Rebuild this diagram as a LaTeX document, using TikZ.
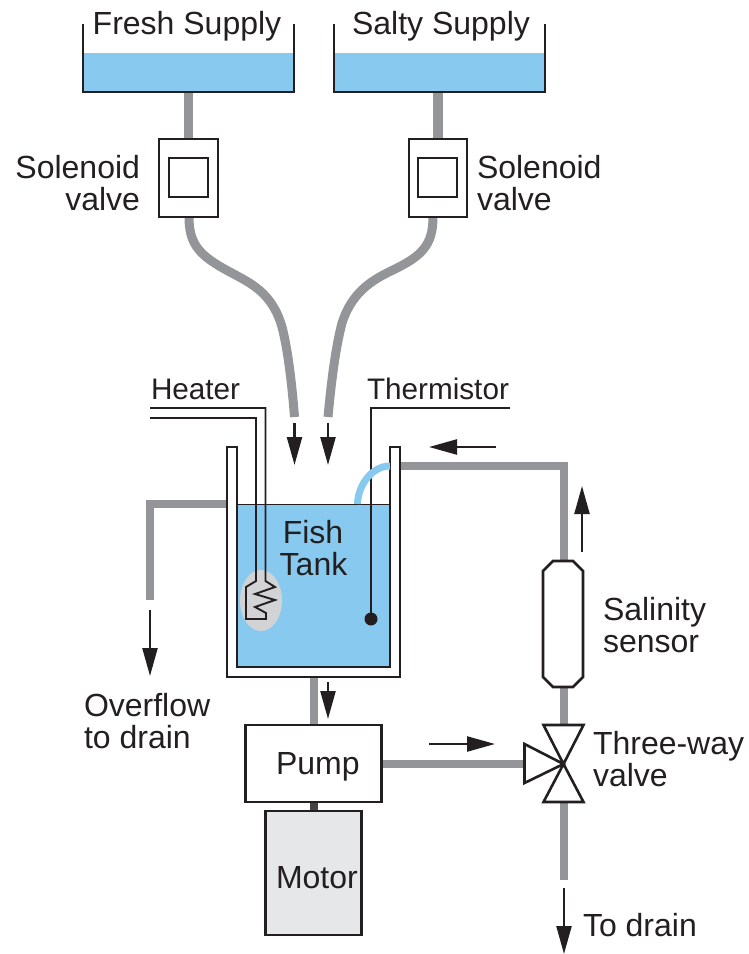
\documentclass[tikz,border=0pt]{standalone}
\usepackage{fontspec}
\setmainfont{Liberation Sans}
\usetikzlibrary{arrows.meta,backgrounds,shapes.geometric}
\definecolor{ink}{HTML}{231F20}
\definecolor{pipegray}{HTML}{939598}
\definecolor{waterblue}{HTML}{88CAEF}
\definecolor{motorgray}{HTML}{E6E7E8}
\definecolor{blobgray}{HTML}{D1D3D4}
\tikzset{
  wall/.style={draw=ink,line width=2.6pt,line join=miter},
  wire/.style={draw=ink,line width=1.9pt,line join=miter},
  pipe/.style={draw=pipegray,line width=9.5pt,line join=miter},
  thinpipe/.style={draw=pipegray,line width=8pt,line join=miter},
  flow/.style={draw=ink,line width=2.3pt,-{Triangle[length=28pt,width=15pt]}},
  boxnode/.style={wall,fill=white,inner sep=0pt,outer sep=0pt},
  label/.style={text=ink,inner sep=0pt,outer sep=0pt,font=\fontsize{32}{32}\selectfont,align=left},
  smalllabel/.style={label,font=\fontsize{29.7}{30}\selectfont},
  ghost/.style={inner sep=0pt,outer sep=0pt},
}
\begin{document}
\begin{tikzpicture}[x=1pt,y=-1pt]
\useasboundingbox (0,0) rectangle (749,954);
% supply tanks
\node[ghost,fill=waterblue,minimum width=211pt,minimum height=39pt] (fresh) at (188.5,72.5) {};
\node[ghost,fill=waterblue,minimum width=211pt,minimum height=39pt] (salty) at (439.5,72.5) {};
\draw[wall] (83,24) -- (fresh.south west) -- (fresh.south east) -- (294,24);
\draw[wall] (334,24) -- (salty.south west) -- (salty.south east) -- (545,24);
\node[label,anchor=base] (freshl) at (187,34) {Fresh Supply};
\node[label,anchor=base] (saltyl) at (441,34) {Salty Supply};
% solenoid valves
\node[boxnode,minimum width=59pt,minimum height=78pt] (fv) at (188.5,178) {};
\node[boxnode,minimum width=39pt,minimum height=39pt] (fvi) at (188.5,177.5) {};
\node[boxnode,minimum width=58pt,minimum height=78pt] (sv) at (438,178) {};
\node[boxnode,minimum width=39pt,minimum height=39pt] (svi) at (437.5,177.5) {};
\node[label,anchor=base east,align=right] (fvl) at (140,178) {Solenoid};
\node[label,anchor=base east,align=right] (fvl2) at (140,210) {valve};
\node[label,anchor=base west] (svl) at (477,178) {Solenoid};
\node[label,anchor=base west] (svl2) at (477,210) {valve};
% free ends
\coordinate (fstart) at (189,217);
\coordinate (sstart) at (433,217);
\coordinate (fend) at (294.5,417);
\coordinate (send) at (328,417);
\coordinate (ovfend) at (150,600);
\coordinate (drainend) at (563.5,880);
% fish tank
\node[ghost,fill=waterblue,minimum width=153pt,minimum height=163pt] (water) at (313.5,585.5) {};
\node[ghost,minimum width=173pt,minimum height=230pt] (tank) at (313.5,562) {};
\draw[draw=ink,line width=1pt] (water.north west) -- (water.north east);
\draw[wall,fill=white] (237,447) -- (227,447) -- (227,677) -- (400,677) -- (400,447) -- (390,447) -- (390,667) -- (237,667) -- cycle;
\coordinate (ovfstart) at (227,504);
\coordinate (retstart) at (400,466);
\coordinate (arcend) at (390,466);
\coordinate (arcstart) at (357.5,504);
\node[label,anchor=base] (fishl) at (313,543) {Fish};
\node[label,anchor=base] (fishl2) at (313.5,575) {Tank};
% heater
\node[ghost,ellipse,fill=blobgray,minimum width=42pt,minimum height=61pt] (blob) at (261,600.5) {};
\coordinate (ha) at (150,408);
\coordinate (hb) at (150,418);
\draw[wire] (ha) -- (265.5,408) -- (265.5,581) -- (275,587) -- (255,594) -- (275,600) -- (255,607) -- (266,613) -- (266,619) -- (246,619) -- (246,587) -- (256,581) -- (256,418) -- (hb);
\node[smalllabel,anchor=base west] (heatl) at (151,399) {Heater};
% thermistor
\coordinate (tha) at (510,408);
\node[circle,fill=ink,inner sep=0pt,outer sep=0pt,minimum size=13pt] (thdot) at (371,619) {};
\draw[wire] (tha) -- (371,408) -- (thdot.center);
\node[smalllabel,anchor=base west] (thl) at (367,399) {Thermistor};
% pump, motor
\node[boxnode,minimum width=136pt,minimum height=77pt] (pump) at (313.5,763.5) {};
\node[boxnode,fill=motorgray,minimum width=96pt,minimum height=124pt] (motor) at (313.5,873) {};
\node[label,anchor=base west] (pumpl) at (276,774) {Pump};
\node[label,anchor=base west] (motorl) at (276,888) {Motor};
% sensor
\node[ghost,minimum width=40pt,minimum height=126pt] (sensor) at (563.5,624) {};
\draw[wall,fill=white] (553,561) -- (573,561) -- (583,571) -- (583,677) -- (573,687) -- (553,687) -- (543,677) -- (543,571) -- cycle;
\node[label,anchor=base west] (sensl) at (603,620) {Salinity};
\node[label,anchor=base west] (sensl2) at (603,652) {sensor};
% three-way valve
\coordinate (tvc) at (563.5,764);
\coordinate (tvt) at (563.5,725);
\coordinate (tvb) at (563.5,802);
\coordinate (tvl) at (524.5,764);
\draw[wall,fill=white] (543.5,725) -- (583.5,725) -- (tvc) -- cycle;
\draw[wall,fill=white] (543.5,802) -- (583.5,802) -- (tvc) -- cycle;
\draw[wall,fill=white] (524.5,744) -- (524.5,783) -- (tvc) -- cycle;
\node[label,anchor=base west] (tvl1) at (593,754) {Three-way};
\node[label,anchor=base west] (tvl2) at (593,786) {valve};
% other labels
\node[label,anchor=base west] (ovl) at (84,716) {Overflow};
\node[label,anchor=base west] (ovl2) at (84,748) {to drain};
\node[label,anchor=base west] (drl) at (583,936) {To drain};
% flow arrows
\coordinate (a1s) at (294.5,423); \coordinate (a1e) at (294.5,465);
\coordinate (a2s) at (328,423);   \coordinate (a2e) at (328,465);
\coordinate (a3s) at (150,610);   \coordinate (a3e) at (150,676);
\coordinate (a4s) at (328,682);   \coordinate (a4e) at (328,719);
\coordinate (a5s) at (429,744);   \coordinate (a5e) at (495,744);
\coordinate (a6s) at (582,552);   \coordinate (a6e) at (582,486);
\coordinate (a7s) at (496,447);   \coordinate (a7e) at (429,447);
\coordinate (a8s) at (564,888);   \coordinate (a8e) at (564,954);
\foreach \s/\e in {a1s/a1e,a2s/a2e,a3s/a3e,a4s/a4e,a5s/a5e,a6s/a6e,a7s/a7e,a8s/a8e}
  \draw[flow] (\s) -- (\e);
% pipes
\begin{pgfonlayer}{background}
\draw[pipe] (fresh.south -| fv.north) -- (fv.north);
\draw[pipe] (fresh.south -| sv.north) -- (sv.north);
\draw[pipe,line width=9pt] (fstart) .. controls (189,245) and (200,256) .. (230,272) .. controls (250,283) and (272,292) .. (282,327) .. controls (288,350) and (292,385) .. (fend);
\draw[pipe,line width=9pt] (sstart) .. controls (433,245) and (422,256) .. (393,270) .. controls (372,280) and (352,292) .. (342,323) .. controls (335,350) and (331,385) .. (send);
\draw[thinpipe] (ovfstart) -- (150,504) -- (ovfend);
\draw[thinpipe] (retstart) -- (sensor.north |- retstart) -- (sensor.north);
\draw[thinpipe] (sensor.south) -- (tvt);
\draw[thinpipe] (tvb) -- (drainend);
\draw[thinpipe] (tank.south) -- (pump.north);
\draw[thinpipe] (pump.east) -- (pump.east -| tvl);
\draw[draw=ink!70!pipegray,line width=8pt] (pump.south) -- (pump.south |- motor.north);
\end{pgfonlayer}
\draw[draw=waterblue,line width=7pt] (arcstart) .. controls (358,485) and (372,466) .. (arcend);
\end{tikzpicture}
\end{document}
